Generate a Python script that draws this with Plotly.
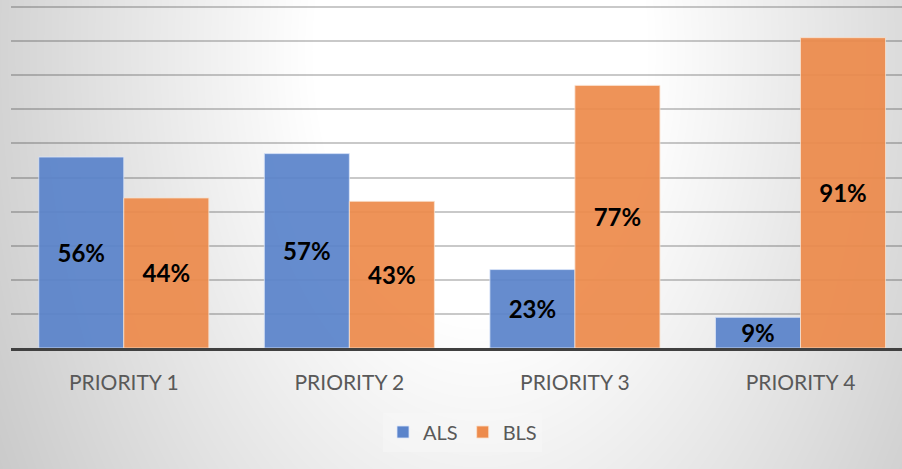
import numpy as np
import zlib, struct, base64
import plotly.graph_objects as go

# ---- data ----
categories = ["PRIORITY 1", "PRIORITY 2", "PRIORITY 3", "PRIORITY 4"]
als_values = [56, 57, 23, 9]
bls_values = [44, 43, 77, 91]
series_names = ["ALS", "BLS"]

# ---- background radial gradient (as PNG data URI) ----
W, H = 902, 469
yy, xx = np.mgrid[0:H, 0:W]
cx, cy, sy = 480, 50, 1.59
d = np.sqrt((xx - cx) ** 2 + ((yy - cy) / sy) ** 2)
v = 255 - 0.138 * np.clip(d - 168, 0, None)
v = np.clip(v, 0, 255).astype(np.uint8)
raw = b"".join(b"\x00" + row.tobytes() for row in v)


def _chunk(tag, data):
    return struct.pack(">I", len(data)) + tag + data + struct.pack(">I", zlib.crc32(tag + data) & 0xFFFFFFFF)


png = (b"\x89PNG\r\n\x1a\n"
       + _chunk(b"IHDR", struct.pack(">IIBBBBB", W, H, 8, 0, 0, 0, 0))
       + _chunk(b"IDAT", zlib.compress(raw, 9))
       + _chunk(b"IEND", b""))
bg_uri = "data:image/png;base64," + base64.b64encode(png).decode()

ML, MR, MT, MB = 11, 0, 0, 121
PW, PH = W - ML - MR, H - MT - MB

fig = go.Figure()
fig.add_trace(go.Bar(
    name=series_names[0], x=categories, y=als_values,
    text=[f"{v}%" for v in als_values],
    marker=dict(color="#5b84cb", opacity=0.93,
                line=dict(color="rgba(220,230,250,0.8)", width=1)),
))
fig.add_trace(go.Bar(
    name=series_names[1], x=categories, y=bls_values,
    text=[f"{v}%" for v in bls_values],
    marker=dict(color="#ed8b4c", opacity=0.93,
                line=dict(color="rgba(250,225,205,0.8)", width=1)),
))
fig.update_traces(textposition="inside", insidetextanchor="middle", textangle=0,
                  textfont=dict(family="Lato", size=24, color="black", weight="bold"),
                  constraintext="none")

fig.update_layout(
    width=W, height=H,
    margin=dict(l=ML, r=MR, t=MT, b=MB, pad=0),
    paper_bgcolor="white",
    plot_bgcolor="rgba(0,0,0,0)",
    barmode="group", bargap=0.246, bargroupgap=0,
    uniformtext=dict(minsize=24, mode="show"),
    showlegend=True,
    legend=dict(orientation="h", x=0.5 + 6 / PW, xanchor="center",
                y=(PH - (432 - MT)) / PH, yanchor="middle",
                bgcolor="rgba(248,248,248,0.45)",
                font=dict(family="Lato", size=20, color="#595959"),
                itemclick=False),
    images=[dict(source=bg_uri, xref="paper", yref="paper",
                 x=-ML / PW, y=1 + MT / PH, sizex=W / PW, sizey=H / PH,
                 xanchor="left", yanchor="top", sizing="stretch", layer="below")],
    xaxis=dict(range=[-0.5, 3.45], showgrid=False, showline=True,
               linecolor="#404040", linewidth=3, ticks="",
               tickfont=dict(family="Lato", size=21, color="#595959"),
               ticklabelstandoff=14, fixedrange=True),
    yaxis=dict(range=[0, 102.05], dtick=10, showticklabels=False,
               showgrid=True, gridcolor="rgba(0,0,0,0.21)", gridwidth=1.5,
               zeroline=False, showline=False, fixedrange=True),
)

fig.write_html("out.html", config={"displayModeBar": False},
               post_script="document.body.style.margin='0';document.body.style.overflow='hidden';")
